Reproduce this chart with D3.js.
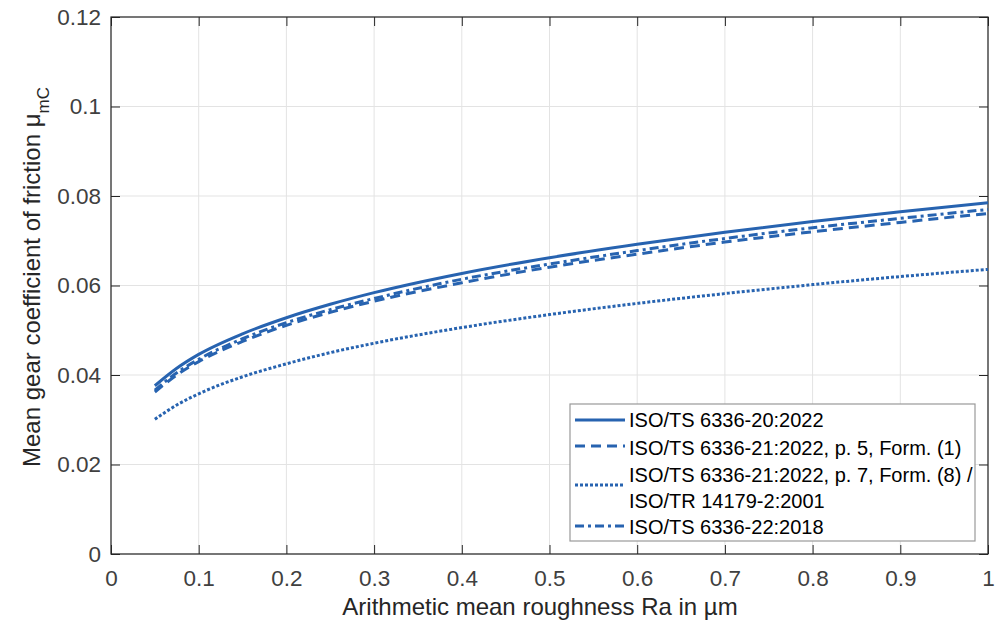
<!DOCTYPE html>
<html>
<head>
<meta charset="utf-8">
<script src="https://cdn.jsdelivr.net/npm/d3@7"></script>
<style>
  body { margin: 0; background: #fff; }
  text { font-family: "Liberation Sans", Arial, sans-serif; }
</style>
</head>
<body>
<div id="chart"></div>
<script>
// roughness values (x) shared by all series
const ra = [0.05, 0.075, 0.1, 0.15, 0.2, 0.25, 0.3, 0.4, 0.5, 0.6, 0.7, 0.8, 0.9, 1.0];

const iso20 = [0.0376, 0.0415, 0.0446, 0.0492, 0.0528, 0.0558, 0.0584, 0.0627, 0.0662, 0.0692, 0.0719, 0.0743, 0.0765, 0.0785];
const iso21f1 = [0.0362, 0.0400, 0.0430, 0.0475, 0.0511, 0.0540, 0.0565, 0.0606, 0.0641, 0.0670, 0.0697, 0.0720, 0.0741, 0.0761];
const iso21f8 = [0.0301, 0.0333, 0.0358, 0.0396, 0.0425, 0.0450, 0.0471, 0.0506, 0.0535, 0.0560, 0.0582, 0.0602, 0.0620, 0.0636];
const iso22 = [0.0366, 0.0405, 0.0435, 0.0481, 0.0517, 0.0546, 0.0571, 0.0614, 0.0648, 0.0678, 0.0705, 0.0729, 0.0750, 0.0770];

const xTicks = [0, 0.1, 0.2, 0.3, 0.4, 0.5, 0.6, 0.7, 0.8, 0.9, 1];
const yTicks = [0, 0.02, 0.04, 0.06, 0.08, 0.1, 0.12];

const legendLabels = [
    ['ISO/TS 6336-20:2022'],
    ['ISO/TS 6336-21:2022, p. 5, Form. (1)'],
    ['ISO/TS 6336-21:2022, p. 7, Form. (8) /', 'ISO/TR 14179-2:2001'],
    ['ISO/TS 6336-22:2018']
];

const blue = '#2763b0';
const dashes = [null, '10,6', '3,2', '9,4,3,4'];
const seriesData = [iso20, iso21f1, iso21f8, iso22];

const width = 1003, height = 623;
const margin = { top: 17, right: 15, bottom: 69, left: 111 };
const w = width - margin.left - margin.right;
const h = height - margin.top - margin.bottom;

const svg = d3.select('#chart')
    .append('svg')
    .attr('width', width)
    .attr('height', height);

const g = svg.append('g')
    .attr('transform', `translate(${margin.left}, ${margin.top})`);

const xScale = d3.scaleLinear().domain([0, 1]).range([0, w]);
const yScale = d3.scaleLinear().domain([0, 0.12]).range([h, 0]);

// grid
g.append('g')
    .selectAll('line')
    .data(xTicks)
    .enter()
    .append('line')
        .attr('x1', (d) => xScale(d))
        .attr('x2', (d) => xScale(d))
        .attr('y1', 0)
        .attr('y2', h)
        .attr('stroke', '#e3e3e3');

g.append('g')
    .selectAll('line')
    .data(yTicks)
    .enter()
    .append('line')
        .attr('y1', (d) => yScale(d))
        .attr('y2', (d) => yScale(d))
        .attr('x1', 0)
        .attr('x2', w)
        .attr('stroke', '#e3e3e3');

// axes, ticks pointing inside
const fmt = (d) => d3.format('')(+d.toFixed(2));

const styleAxis = (sel) => {
    sel.select('.domain').remove();
    sel.selectAll('line').attr('stroke', '#262626');
    sel.selectAll('text')
        .attr('fill', '#404040')
        .attr('font-size', '22.5px');
};

g.append('g')
    .attr('transform', `translate(0, ${h})`)
    .call(d3.axisBottom(xScale).tickValues(xTicks).tickFormat(fmt).tickSizeInner(-9).tickPadding(16))
    .call(styleAxis);

g.append('g')
    .call(d3.axisTop(xScale).tickValues(xTicks).tickSizeInner(-9).tickFormat(''))
    .call(styleAxis);

g.append('g')
    .call(d3.axisLeft(yScale).tickValues(yTicks).tickFormat(fmt).tickSizeInner(-9).tickPadding(10))
    .call(styleAxis);

g.append('g')
    .attr('transform', `translate(${w}, 0)`)
    .call(d3.axisRight(yScale).tickValues(yTicks).tickSizeInner(-9).tickFormat(''))
    .call(styleAxis);

// box
g.append('rect')
    .attr('width', w)
    .attr('height', h)
    .attr('fill', 'none')
    .attr('stroke', '#262626')
    .attr('stroke-width', 1.2);

// lines
const line = d3.line()
    .x((d, i) => xScale(ra[i]))
    .y((d) => yScale(d))
    .curve(d3.curveMonotoneX);

seriesData.forEach((s, i) => {
    g.append('path')
        .datum(s)
        .attr('d', line)
        .attr('fill', 'none')
        .attr('stroke', blue)
        .attr('stroke-width', 3)
        .attr('stroke-dasharray', dashes[i]);
});

// axis labels
svg.append('text')
    .attr('x', 540)
    .attr('y', 615)
    .attr('text-anchor', 'middle')
    .attr('font-size', '24px')
    .attr('fill', '#262626')
    .text('Arithmetic mean roughness Ra in µm');

const yl = svg.append('text')
    .attr('transform', 'translate(40, 467) rotate(-90)')
    .attr('font-size', '24px')
    .attr('fill', '#262626');
yl.append('tspan').text('Mean gear coefficient of friction μ');
yl.append('tspan').attr('dy', 9).attr('font-size', '17px').text('mC');

// legend
const lg = svg.append('g');
lg.append('rect')
    .attr('x', 570)
    .attr('y', 404)
    .attr('width', 405)
    .attr('height', 137)
    .attr('fill', '#fff')
    .attr('stroke', '#999')
    .attr('stroke-width', 1.2);

const lineY = [420, 446, 485, 526];
const textY = [[427.3], [455], [482.3, 507.7], [534.3]];
legendLabels.forEach((lab, i) => {
    lg.append('line')
        .attr('x1', 575)
        .attr('x2', 625)
        .attr('y1', lineY[i])
        .attr('y2', lineY[i])
        .attr('stroke', blue)
        .attr('stroke-width', 3)
        .attr('stroke-dasharray', dashes[i]);
    lab.forEach((s, j) => {
        lg.append('text')
            .attr('x', 629)
            .attr('y', textY[i][j])
            .attr('font-size', '20px')
            .attr('fill', '#000')
            .text(s);
    });
});
</script>
</body>
</html>
